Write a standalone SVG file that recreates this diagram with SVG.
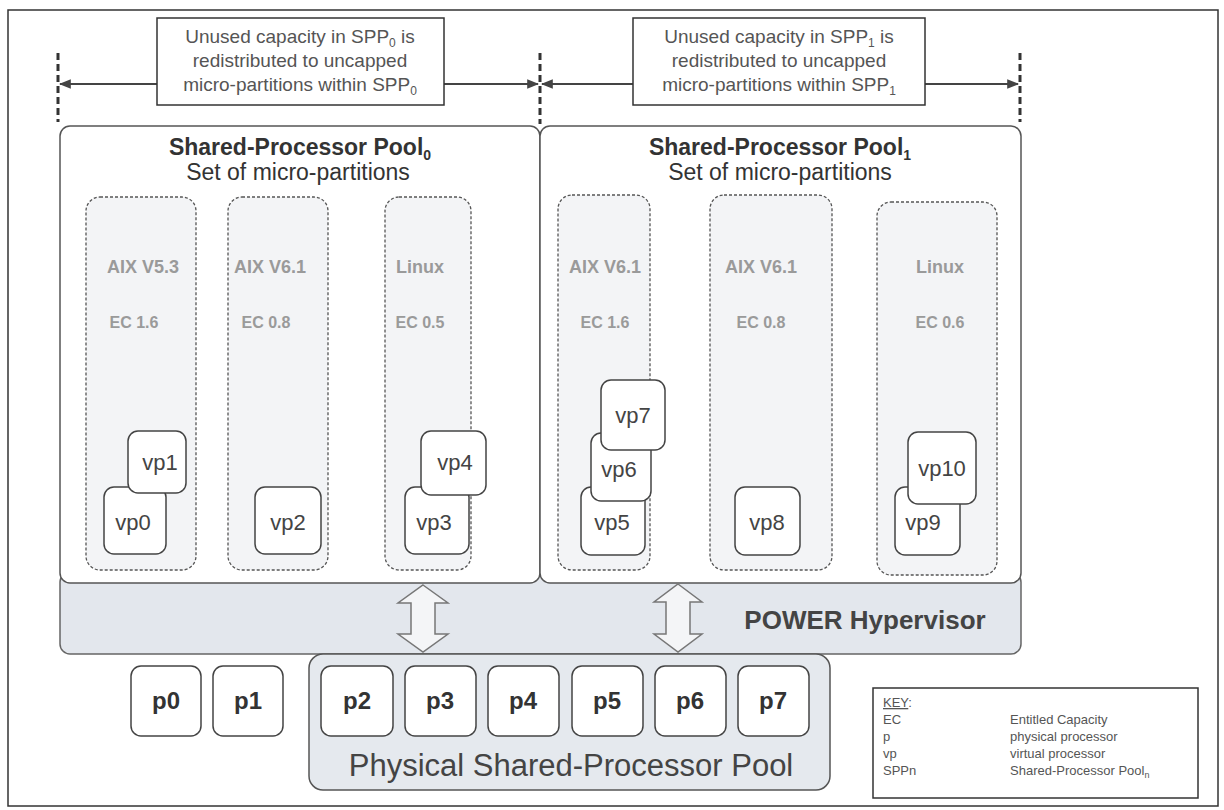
<svg xmlns="http://www.w3.org/2000/svg" width="1224" height="810" viewBox="0 0 1224 810">
<style>
text{font-family:"Liberation Sans",Arial,sans-serif}
.frame{fill:#fff;stroke:#333;stroke-width:1.5}
.note{fill:#fff;stroke:#333;stroke-width:1.5}
.notet{font-size:19px;fill:#555;text-anchor:middle}
.dash{stroke:#333;stroke-width:3;stroke-dasharray:7,4;fill:none}
.arr{stroke:#444;stroke-width:2;fill:none}
.pool{fill:#fff;stroke:#555;stroke-width:1.5}
.ptitle{font-size:23px;fill:#333;text-anchor:middle}
.part{fill:#f3f4f6;stroke:#555;stroke-width:1.3;stroke-dasharray:3,2}
.plab{font-size:18px;fill:#9a9a9a;font-weight:bold;text-anchor:middle}
.ec{font-size:16px;fill:#9a9a9a;font-weight:bold;text-anchor:middle}
.vp{fill:#fff;stroke:#444;stroke-width:1.5}
.vpt{font-size:22px;fill:#444;text-anchor:middle}
.hyp{fill:#e3e7ed;stroke:#666;stroke-width:1.5}
.phys{fill:#e5e9ee;stroke:#555;stroke-width:1.5}
.proc{fill:#fff;stroke:#444;stroke-width:1.5}
.pt{font-size:24px;fill:#333;text-anchor:middle;font-weight:bold}
.blk{fill:#f4f5f7;stroke:#777;stroke-width:1.5}
.key{fill:#fff;stroke:#333;stroke-width:1.5}
.kt{font-size:13px;fill:#555}
</style>
<defs>
<marker id="ah" viewBox="0 0 10 10" refX="9" refY="5" markerWidth="6" markerHeight="6" orient="auto-start-reverse">
<path d="M0,1 L10,5 L0,9 z" fill="#444"/>
</marker>
</defs>
<rect class="frame" x="8" y="10" width="1210" height="796"/>

<g id="connectors">
<line class="dash" x1="58" y1="53" x2="58" y2="122"/>
<line class="dash" x1="540" y1="53" x2="540" y2="124"/>
<line class="dash" x1="1020" y1="53" x2="1020" y2="122"/>
<line class="arr" x1="157" y1="84" x2="60" y2="84" marker-end="url(#ah)"/>
<line class="arr" x1="444" y1="84" x2="538" y2="84" marker-end="url(#ah)"/>
<line class="arr" x1="633" y1="84" x2="542" y2="84" marker-end="url(#ah)"/>
<line class="arr" x1="925" y1="84" x2="1018" y2="84" marker-end="url(#ah)"/>
</g>

<g id="note0">
<rect class="note" x="157" y="18" width="287" height="87"/>
<text class="notet" x="300" y="43">Unused capacity in SPP<tspan font-size="12" dy="4">0</tspan><tspan dy="-4"> is</tspan></text>
<text class="notet" x="300" y="67">redistributed to uncapped</text>
<text class="notet" x="300" y="91">micro-partitions within SPP<tspan font-size="12" dy="4">0</tspan></text>
</g>
<g id="note1">
<rect class="note" x="633" y="18" width="292" height="87"/>
<text class="notet" x="779" y="43">Unused capacity in SPP<tspan font-size="12" dy="4">1</tspan><tspan dy="-4"> is</tspan></text>
<text class="notet" x="779" y="67">redistributed to uncapped</text>
<text class="notet" x="779" y="91">micro-partitions within SPP<tspan font-size="12" dy="4">1</tspan></text>
</g>

<g id="hypervisor">
<rect class="hyp" x="60" y="572" width="961" height="82" rx="10"/>
<text x="865" y="629" font-size="26" font-weight="bold" fill="#444" text-anchor="middle">POWER Hypervisor</text>
</g>

<g id="pool0">
<rect class="pool" x="60" y="126" width="480" height="457" rx="10"/>
<text class="ptitle" x="300" y="155" font-size="24" font-weight="bold">Shared-Processor Pool<tspan font-size="14" dy="5">0</tspan></text>
<text class="ptitle" x="298" y="180">Set of micro-partitions</text>
</g>
<g id="pool1">
<rect class="pool" x="540" y="126" width="481" height="457" rx="10"/>
<text class="ptitle" x="780" y="155" font-size="24" font-weight="bold">Shared-Processor Pool<tspan font-size="14" dy="5">1</tspan></text>
<text class="ptitle" x="780" y="180">Set of micro-partitions</text>
</g>

<g id="part0">
<rect class="part" x="86" y="197" width="110" height="373" rx="14"/>
<text class="plab" x="143" y="273">AIX V5.3</text>
<text class="ec" x="134" y="328">EC 1.6</text>
</g>
<g id="part1">
<rect class="part" x="228" y="197" width="100" height="373" rx="14"/>
<text class="plab" x="270" y="273">AIX V6.1</text>
<text class="ec" x="266" y="328">EC 0.8</text>
</g>
<g id="part2">
<rect class="part" x="385" y="197" width="86" height="373" rx="14"/>
<text class="plab" x="420" y="273">Linux</text>
<text class="ec" x="420" y="328">EC 0.5</text>
</g>
<g id="part3">
<rect class="part" x="558" y="195" width="92" height="375" rx="14"/>
<text class="plab" x="605" y="273">AIX V6.1</text>
<text class="ec" x="605" y="328">EC 1.6</text>
</g>
<g id="part4">
<rect class="part" x="710" y="195" width="122" height="375" rx="14"/>
<text class="plab" x="761" y="273">AIX V6.1</text>
<text class="ec" x="761" y="328">EC 0.8</text>
</g>
<g id="part5">
<rect class="part" x="877" y="202" width="120" height="373" rx="14"/>
<text class="plab" x="940" y="273">Linux</text>
<text class="ec" x="940" y="328">EC 0.6</text>
</g>

<g id="vp0"><rect class="vp" x="104" y="487" width="62" height="67" rx="10"/><text class="vpt" x="133" y="530">vp0</text></g>
<g id="vp1"><rect class="vp" x="128" y="431" width="58" height="62" rx="10"/><text class="vpt" x="160" y="470">vp1</text></g>
<g id="vp2"><rect class="vp" x="255" y="487" width="66" height="67" rx="10"/><text class="vpt" x="288" y="530">vp2</text></g>
<g id="vp3"><rect class="vp" x="405" y="487" width="64" height="67" rx="10"/><text class="vpt" x="434" y="530">vp3</text></g>
<g id="vp4"><rect class="vp" x="421" y="431" width="65" height="64" rx="10"/><text class="vpt" x="455" y="470">vp4</text></g>
<g id="vp5"><rect class="vp" x="581" y="487" width="64" height="68" rx="10"/><text class="vpt" x="612" y="530">vp5</text></g>
<g id="vp6"><rect class="vp" x="591" y="433" width="60" height="68" rx="10"/><text class="vpt" x="619" y="477">vp6</text></g>
<g id="vp7"><rect class="vp" x="601" y="380" width="64" height="70" rx="10"/><text class="vpt" x="633" y="423">vp7</text></g>
<g id="vp8"><rect class="vp" x="735" y="487" width="65" height="68" rx="10"/><text class="vpt" x="767" y="530">vp8</text></g>
<g id="vp9"><rect class="vp" x="895" y="487" width="65" height="68" rx="10"/><text class="vpt" x="923" y="530">vp9</text></g>
<g id="vp10"><rect class="vp" x="908" y="432" width="68" height="72" rx="10"/><text class="vpt" x="942" y="476">vp10</text></g>

<g id="physpool">
<rect class="phys" x="309" y="654" width="521" height="136" rx="14"/>
<text x="571" y="776" font-size="31" fill="#444" text-anchor="middle">Physical Shared-Processor Pool</text>
</g>

<g id="arrow0">
<path class="blk" d="M423,585 L448,603 L435,603 L435,634 L448,634 L423,652 L398,634 L411,634 L411,603 L398,603 Z"/>
</g>
<g id="arrow1">
<path class="blk" d="M678,584 L702,602 L690,602 L690,634 L702,634 L678,652 L654,634 L666,634 L666,602 L654,602 Z"/>
</g>

<g id="p0"><rect class="proc" x="131" y="666" width="70" height="70" rx="10"/><text class="pt" x="166" y="709">p0</text></g>
<g id="p1"><rect class="proc" x="213" y="666" width="70" height="70" rx="10"/><text class="pt" x="248" y="709">p1</text></g>
<g id="p2"><rect class="proc" x="321" y="666" width="72" height="70" rx="10"/><text class="pt" x="357" y="709">p2</text></g>
<g id="p3"><rect class="proc" x="405" y="666" width="71" height="70" rx="10"/><text class="pt" x="440" y="709">p3</text></g>
<g id="p4"><rect class="proc" x="488" y="666" width="71" height="70" rx="10"/><text class="pt" x="523" y="709">p4</text></g>
<g id="p5"><rect class="proc" x="572" y="666" width="71" height="70" rx="10"/><text class="pt" x="607" y="709">p5</text></g>
<g id="p6"><rect class="proc" x="655" y="666" width="71" height="70" rx="10"/><text class="pt" x="690" y="709">p6</text></g>
<g id="p7"><rect class="proc" x="738" y="666" width="71" height="70" rx="10"/><text class="pt" x="773" y="709">p7</text></g>

<g id="key">
<rect class="key" x="873" y="688" width="325" height="110"/>
<text class="kt" x="883" y="707"><tspan text-decoration="underline">KEY</tspan>:</text>
<text class="kt" x="883" y="724">EC</text>
<text class="kt" x="883" y="741">p</text>
<text class="kt" x="883" y="758">vp</text>
<text class="kt" x="883" y="775">SPPn</text>
<text class="kt" x="1010" y="724">Entitled Capacity</text>
<text class="kt" x="1010" y="741">physical processor</text>
<text class="kt" x="1010" y="758">virtual processor</text>
<text class="kt" x="1010" y="775">Shared-Processor Pool<tspan font-size="9" dy="3">n</tspan></text>
</g>
</svg>
